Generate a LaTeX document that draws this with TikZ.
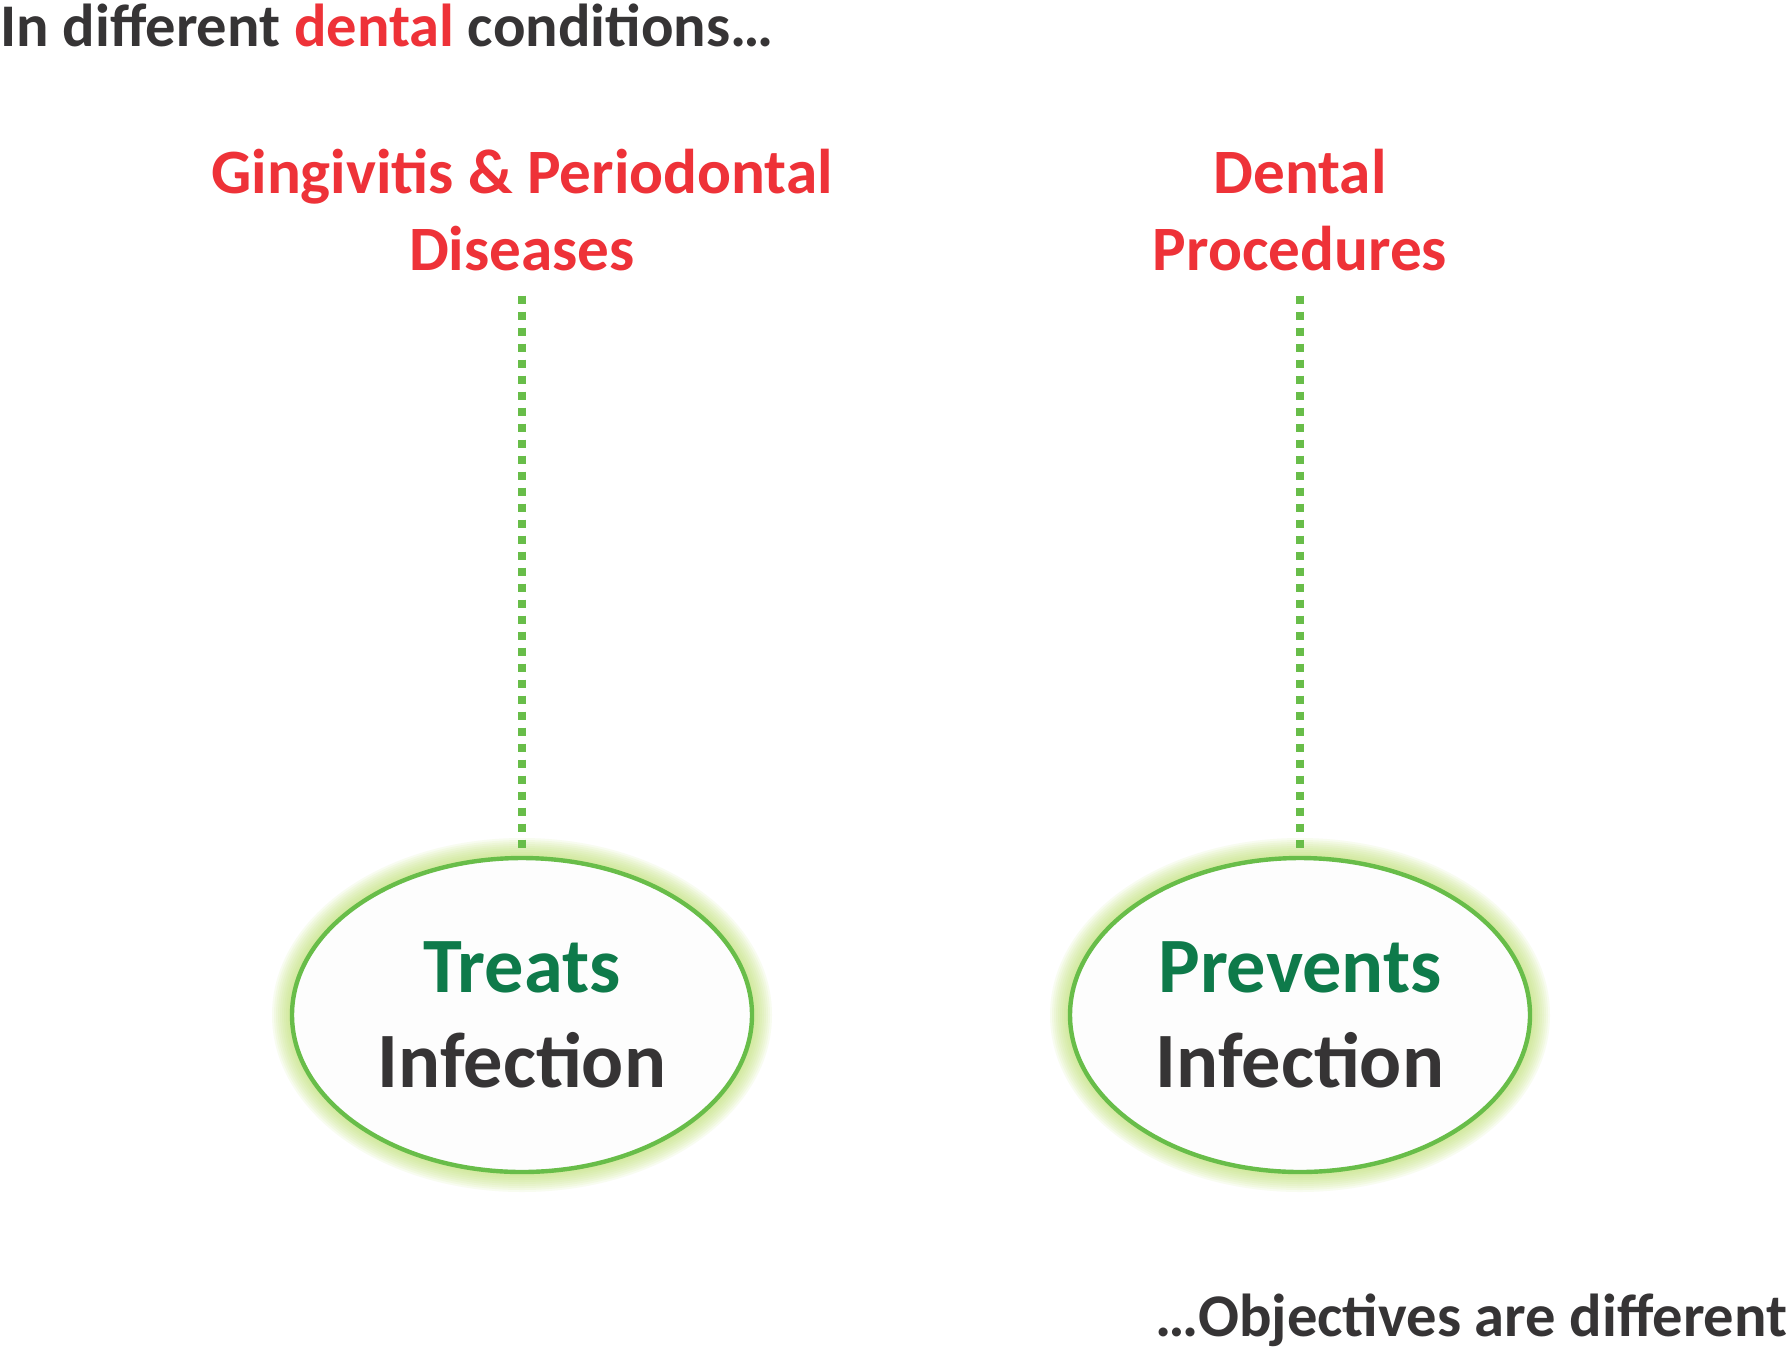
\documentclass[tikz,border=0pt]{standalone}
\usepackage{fontspec}
\setmainfont{Carlito}
\usetikzlibrary{shapes.geometric, backgrounds}

\definecolor{textgray}{RGB}{54,52,53}
\definecolor{condred}{RGB}{238,50,56}
\definecolor{goalgreen}{RGB}{14,122,74}
\definecolor{linegreen}{RGB}{104,189,73}
\definecolor{glowgreen}{RGB}{190,226,110}

\begin{document}
\begin{tikzpicture}[
      x=0.5pt, y=-0.5pt,
      headline/.style={
        inner sep=0pt,
        text=textgray,
        font=\fontsize{30.3}{36}\selectfont\bfseries
      },
      cond/.style={
        inner sep=0pt,
        text=condred,
        align=center,
        font=\fontsize{31.6}{38.5}\selectfont\bfseries
      },
      goal/.style={
        ellipse,
        draw=linegreen,
        line width=2.2pt,
        fill=black!0.7,
        minimum width=230pt,
        minimum height=157pt,
        inner sep=0pt,
        align=center,
        text=textgray,
        font=\fontsize{39.2}{47.5}\selectfont\bfseries
      },
      link/.style={draw=linegreen, line width=4pt, dash pattern=on 4pt off 4pt},
      glow/.style={draw=glowgreen, opacity=0.1}
    ]
    \useasboundingbox (0,0) rectangle (1788,1350);

    % Headlines
    \node[headline, anchor=base west] (intro) at (0,46) {In different {\color{condred}dental} conditions…};
    \node[headline, anchor=base east] (outro) at (1788,1336) {…Objectives are different};

    % Dental conditions
    \node[cond, anchor=north] (gingivitis) at (522,149) {Gingivitis \& Periodontal\\Diseases};
    \node[cond, anchor=north] (procedures) at (1300,149) {Dental\\Procedures};

    % Objectives
    \node[goal] (treats) at (522,1015) {{\color{goalgreen}Treats}\\Infection};
    \node[goal] (prevents) at (1300,1015) {{\color{goalgreen}Prevents}\\Infection};

    % Glow round the objectives
    \begin{scope}[on background layer]
      \fill[white] (0,0) rectangle (1788,1350);
      \foreach \n in {treats, prevents}
        \foreach \w in {40,36,...,8}
          \draw[glow, line width=\w*0.5pt] (\n.center) ellipse [x radius=115pt, y radius=78.5pt];
    \end{scope}

    % Links
    \draw[link, shorten <=12pt, shorten >=3pt] (gingivitis.south) -- (treats.north);
    \draw[link, shorten <=12pt, shorten >=3pt] (procedures.south) -- (prevents.north);

  \end{tikzpicture}
\end{document}
